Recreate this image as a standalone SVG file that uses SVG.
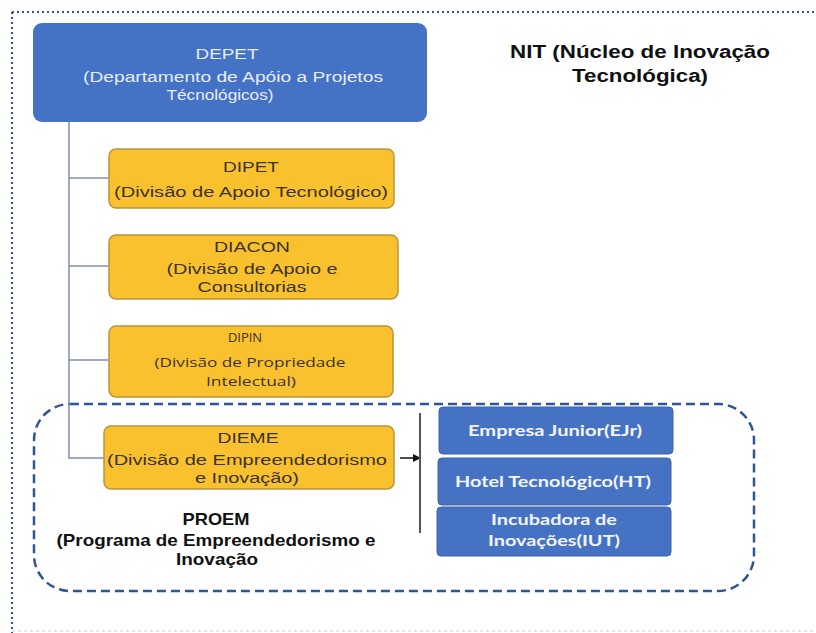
<svg xmlns="http://www.w3.org/2000/svg" width="816" height="633" viewBox="0 0 816 633">
<defs>
<style>
.blue{fill:#4472C4;}
.yel{fill:#FAC12E;stroke:#B8963A;stroke-width:1.5;}
.sub{fill:#4672C4;stroke:#3F63A8;stroke-width:1;}
.wt{font-family:"Liberation Sans",Arial,sans-serif;fill:#E9EDF6;text-anchor:middle;font-size:15.5px;}
.yt{font-family:"Liberation Sans",Arial,sans-serif;fill:#3A3328;text-anchor:middle;font-size:15.5px;}
.ot{font-family:"Open Sans","Noto Sans",sans-serif;fill:#3A3328;text-anchor:middle;font-size:13px;}
.st{font-family:Lato,"Open Sans",sans-serif;fill:#F2F5FB;text-anchor:middle;font-weight:bold;font-size:16px;}
.bt{font-family:"Liberation Sans",Arial,sans-serif;fill:#111;text-anchor:middle;font-weight:bold;}
.conn{stroke:#7F8FB0;stroke-width:1.5;fill:none;}
</style>
<marker id="arr" markerWidth="8" markerHeight="8" refX="7" refY="4" orient="auto" markerUnits="userSpaceOnUse">
<path d="M0,0 L8,4 L0,8 z" fill="#111"/>
</marker>
</defs>
<rect width="816" height="633" fill="#fff"/>
<g id="frame">
<line x1="12" y1="12" x2="816" y2="12" stroke="#2F5597" stroke-width="2" stroke-dasharray="2,3"/>
<line x1="12" y1="12" x2="12" y2="633" stroke="#2F5597" stroke-width="2" stroke-dasharray="2,3"/>
<line x1="12" y1="631" x2="816" y2="631" stroke="#C8CCD6" stroke-width="1" stroke-dasharray="3,3"/>
</g>
<g id="proem-group">
<rect x="34" y="404" width="720" height="187" rx="36" ry="36" fill="none" stroke="#2F5597" stroke-width="2.5" stroke-dasharray="9,5"/>
<text class="bt" x="216" y="525" font-size="16.5" textLength="67" lengthAdjust="spacingAndGlyphs">PROEM</text>
<text class="bt" x="216" y="546" font-size="16.5" textLength="319" lengthAdjust="spacingAndGlyphs">(Programa de Empreendedorismo e</text>
<text class="bt" x="217" y="565" font-size="16.5" textLength="82" lengthAdjust="spacingAndGlyphs">Inovação</text>
</g>
<g id="connectors">
<path class="conn" d="M69,122 V458 H104"/>
<path class="conn" d="M69,178 H109"/>
<path class="conn" d="M69,266 H109"/>
<path class="conn" d="M69,360 H109"/>
<line x1="400" y1="458" x2="420" y2="458" stroke="#111" stroke-width="1.5" marker-end="url(#arr)"/>
<line x1="420" y1="413" x2="420" y2="533" stroke="#555" stroke-width="2"/>
</g>
<g id="depet">
<rect class="blue" x="33" y="23" width="394" height="99" rx="9"/>
<text class="wt" x="227" y="59" font-size="17" textLength="63" lengthAdjust="spacingAndGlyphs">DEPET</text>
<text class="wt" x="233" y="82" textLength="300" lengthAdjust="spacingAndGlyphs">(Departamento de Apóio a Projetos</text>
<text class="wt" x="220" y="100" textLength="107" lengthAdjust="spacingAndGlyphs">Técnológicos)</text>
</g>
<g id="nit">
<text class="bt" x="640" y="58" font-size="18" textLength="260" lengthAdjust="spacingAndGlyphs">NIT (Núcleo de Inovação</text>
<text class="bt" x="640" y="82" font-size="18" textLength="136" lengthAdjust="spacingAndGlyphs">Tecnológica)</text>
</g>
<g id="dipet">
<rect class="yel" x="109" y="149" width="285" height="59" rx="7"/>
<text class="yt" x="251" y="172" font-size="17" textLength="56" lengthAdjust="spacingAndGlyphs">DIPET</text>
<text class="yt" x="251" y="197" font-size="17" textLength="274" lengthAdjust="spacingAndGlyphs">(Divisão de Apoio Tecnológico)</text>
</g>
<g id="diacon">
<rect class="yel" x="109" y="235" width="289" height="64" rx="7"/>
<text class="yt" x="252" y="252" textLength="76" lengthAdjust="spacingAndGlyphs">DIACON</text>
<text class="yt" x="252" y="274" textLength="171" lengthAdjust="spacingAndGlyphs">(Divisão de Apoio e</text>
<text class="yt" x="252" y="292" textLength="109" lengthAdjust="spacingAndGlyphs">Consultorias</text>
</g>
<g id="dipin">
<rect class="yel" x="109" y="326" width="284" height="71" rx="7"/>
<text class="ot" x="245" y="342" textLength="34" lengthAdjust="spacingAndGlyphs">DIPIN</text>
<text class="ot" x="250" y="367" textLength="191" lengthAdjust="spacingAndGlyphs">(Divisão de Propriedade</text>
<text class="ot" x="251" y="386" textLength="90" lengthAdjust="spacingAndGlyphs">Intelectual)</text>
</g>
<g id="dieme">
<rect class="yel" x="104" y="426" width="290" height="63" rx="7"/>
<text class="yt" x="248" y="443" textLength="61" lengthAdjust="spacingAndGlyphs">DIEME</text>
<text class="yt" x="247" y="465" textLength="280" lengthAdjust="spacingAndGlyphs">(Divisão de Empreendedorismo</text>
<text class="yt" x="247" y="483" textLength="104" lengthAdjust="spacingAndGlyphs">e Inovação)</text>
</g>
<g id="ejr">
<rect class="sub" x="439" y="407" width="234" height="47" rx="4"/>
<text class="st" x="555" y="436" textLength="174" lengthAdjust="spacingAndGlyphs">Empresa Junior(EJr)</text>
</g>
<g id="ht">
<rect class="sub" x="438" y="458" width="233" height="47" rx="4"/>
<text class="st" x="553" y="487" textLength="196" lengthAdjust="spacingAndGlyphs">Hotel Tecnológico(HT)</text>
</g>
<g id="iut">
<rect class="sub" x="437" y="507" width="234" height="49" rx="4"/>
<text class="st" x="554" y="525" textLength="126" lengthAdjust="spacingAndGlyphs">Incubadora de</text>
<text class="st" x="554" y="546" textLength="132" lengthAdjust="spacingAndGlyphs">Inovações(IUT)</text>
</g>
</svg>
